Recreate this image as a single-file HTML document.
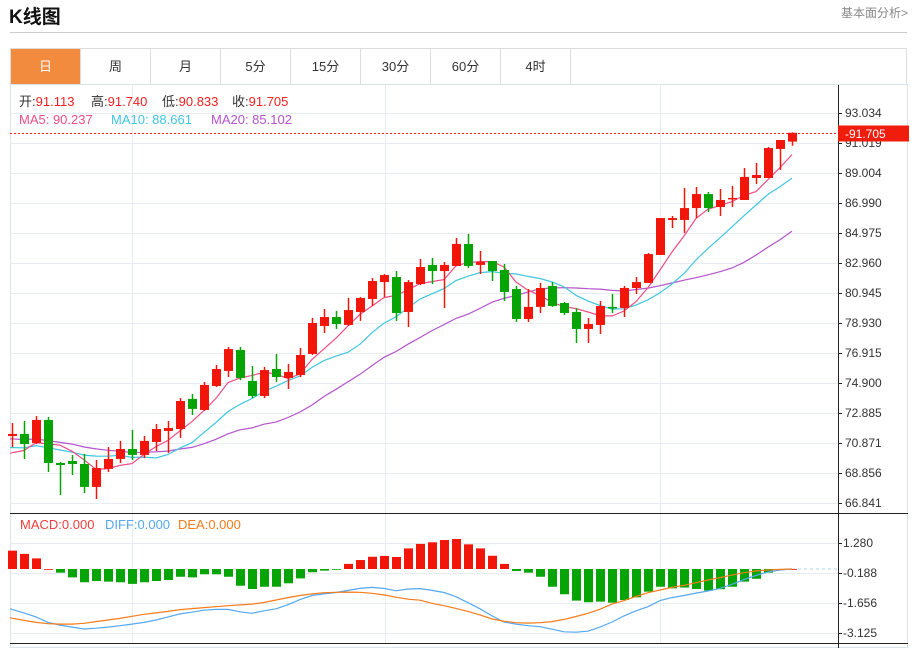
<!DOCTYPE html>
<html><head><meta charset="utf-8">
<style>
body{margin:0;width:917px;height:650px;background:#fff;font-family:"Liberation Sans","Noto Sans CJK SC",sans-serif;position:relative;overflow:hidden}
.title{position:absolute;left:9px;top:2px;font-size:19px;font-weight:bold;color:#111}
.more{position:absolute;left:841px;top:4px;font-size:12px;color:#888}
.hr{position:absolute;left:10px;top:32px;width:897px;height:1px;background:#ccc}
.tabs{position:absolute;left:10px;top:48px;width:897px;height:36px;border:1px solid #ddd;border-bottom:none;box-sizing:border-box;display:flex}
.tab{width:70px;height:35px;border-right:1px solid #ddd;box-sizing:border-box;text-align:center;line-height:35px;font-size:13px;color:#333}
.tab.on{background:#f38b3e;color:#fff}
</style></head><body>
<div class="title">K线图</div>
<div class="more">基本面分析&gt;</div>
<div class="hr"></div>
<div class="tabs">
<div class="tab on">日</div>
<div class="tab">周</div>
<div class="tab">月</div>
<div class="tab">5分</div>
<div class="tab">15分</div>
<div class="tab">30分</div>
<div class="tab">60分</div>
<div class="tab">4时</div>
</div>
<svg id="chart" width="917" height="650" style="position:absolute;left:0;top:0"></svg>
<script>
const opens=[71.34,71.48,70.87,72.42,69.53,69.66,69.46,67.92,69.13,69.80,70.47,70.07,70.94,71.68,71.81,73.83,73.09,74.70,75.71,77.12,75.04,74.03,75.84,75.24,75.44,76.85,78.73,79.33,78.80,79.67,80.54,81.68,82.02,79.67,81.55,82.83,82.42,82.76,84.24,82.83,83.09,82.49,81.21,79.20,80.01,81.42,80.27,79.67,78.53,78.80,80.01,79.94,81.28,81.62,83.50,85.85,85.85,86.65,87.59,86.72,87.26,87.19,88.67,88.67,90.62,91.113];
const closes=[71.48,70.80,72.42,69.53,69.39,69.46,67.92,69.19,69.80,70.47,70.07,71.01,71.81,71.88,73.69,73.16,74.77,75.84,77.18,75.24,74.03,75.77,75.30,75.64,76.78,78.93,79.33,78.86,79.80,80.61,81.75,82.15,79.60,81.68,82.69,82.42,82.83,84.24,82.76,83.03,82.42,81.01,79.20,80.01,81.28,80.07,79.60,78.53,78.86,80.07,79.94,81.28,81.68,83.56,85.98,85.98,86.65,87.59,86.65,87.19,87.33,88.74,88.87,90.68,91.22,91.705];
const highs=[72.21,72.35,72.68,72.62,69.60,70.07,70.13,69.73,70.60,71.01,71.74,71.34,72.15,72.35,73.89,74.16,74.97,76.11,77.32,77.32,76.04,75.98,76.85,76.18,77.25,79.27,79.87,79.74,80.61,80.68,81.95,82.22,82.42,81.82,83.23,83.30,83.03,84.64,84.91,83.77,83.09,82.89,81.42,81.21,81.62,81.68,80.34,79.94,79.27,80.41,80.88,81.42,82.02,83.63,85.98,86.12,88.00,88.06,87.73,87.93,88.13,89.34,89.68,90.75,91.22,91.74];
const lows=[70.60,69.80,70.80,68.92,67.38,68.72,67.51,67.11,68.92,69.53,69.73,69.86,70.33,70.20,71.21,72.75,73.02,74.63,75.30,75.10,73.89,73.89,74.97,74.50,75.30,76.78,78.26,78.53,78.73,79.07,80.07,80.68,79.07,78.66,81.48,81.55,79.94,82.76,82.62,82.22,81.75,80.41,79.00,79.00,79.60,80.01,79.47,77.59,77.59,78.19,79.60,79.33,80.88,81.62,83.50,85.31,84.98,85.98,86.39,86.12,86.72,87.19,88.27,88.67,89.21,90.833];
const prevCloses=[71.74,71.74,71.74,71.74,71.74,71.74,71.74,71.74,71.74,71.74,70.94,70.94,70.94,70.94,70.94,69.86,69.86,69.86,69.86];
const priceTicks=[93.034,91.019,89.004,86.990,84.975,82.960,80.945,78.930,76.915,74.900,72.885,70.871,68.856,66.841];
const macdHist=[0.90,0.74,0.52,0.0,-0.18,-0.41,-0.65,-0.59,-0.62,-0.65,-0.73,-0.65,-0.59,-0.54,-0.38,-0.41,-0.26,-0.26,-0.38,-0.82,-0.98,-0.87,-0.87,-0.70,-0.46,-0.16,-0.08,-0.02,0.25,0.44,0.60,0.64,0.59,1.01,1.23,1.31,1.42,1.47,1.21,1.01,0.65,0.25,-0.10,-0.18,-0.38,-0.87,-1.24,-1.55,-1.63,-1.60,-1.65,-1.52,-1.39,-1.11,-0.87,-0.95,-0.91,-0.98,-1.06,-0.99,-0.87,-0.62,-0.48,-0.18,-0.05,0];
const diffVals=[-1.95,-2.15,-2.35,-2.62,-2.75,-2.85,-2.94,-2.90,-2.85,-2.78,-2.70,-2.62,-2.50,-2.35,-2.20,-2.12,-2.02,-1.98,-1.98,-2.10,-2.17,-2.05,-1.95,-1.75,-1.50,-1.30,-1.22,-1.15,-1.05,-0.95,-0.90,-0.95,-1.07,-0.98,-0.96,-1.05,-1.15,-1.36,-1.65,-1.95,-2.30,-2.60,-2.70,-2.78,-2.83,-2.95,-3.08,-3.10,-3.05,-2.85,-2.60,-2.30,-2.05,-1.85,-1.55,-1.40,-1.30,-1.18,-1.08,-0.95,-0.75,-0.52,-0.32,-0.14,-0.05,0];
const deaVals=[-2.39,-2.52,-2.62,-2.68,-2.70,-2.70,-2.66,-2.58,-2.50,-2.42,-2.32,-2.22,-2.15,-2.08,-1.99,-1.94,-1.89,-1.85,-1.80,-1.76,-1.72,-1.64,-1.52,-1.40,-1.30,-1.22,-1.16,-1.14,-1.13,-1.14,-1.19,-1.27,-1.38,-1.48,-1.53,-1.68,-1.80,-1.93,-2.08,-2.25,-2.45,-2.56,-2.63,-2.65,-2.63,-2.58,-2.47,-2.33,-2.17,-1.97,-1.72,-1.55,-1.35,-1.16,-1.03,-0.90,-0.80,-0.67,-0.54,-0.42,-0.30,-0.18,-0.10,-0.05,-0.02,0];
const macdTicks=[1.280,-0.188,-1.656,-3.125];

const NS='http://www.w3.org/2000/svg';
const svg=document.getElementById('chart');
function mk(tag,attrs,parent){const e=document.createElementNS(NS,tag);for(const k in attrs)e.setAttribute(k,attrs[k]);(parent||svg).appendChild(e);return e;}
const X0=12,DX=12,AXIS=838;
const xs=i=>X0+i*DX;
const yP=p=>113+(93.034-p)*(390/(93.034-66.841));
const yM=v=>569-v*20.4;
const RED='#f2160a',GREEN='#07a406';

let e=mk('rect',{x:10.5,y:84.5,width:897,height:563,fill:'none',stroke:'#dde3ea'});


priceTicks.forEach(t=>{const g=mk('line',{x1:10,x2:AXIS,y1:Math.round(yP(t))+0.5,y2:Math.round(yP(t))+0.5,stroke:'#e6ecf1'});

});
[132,385,660].forEach(x=>{const g=mk('line',{x1:x+0.5,x2:x+0.5,y1:85,y2:643,stroke:'#e6ecf1'});

});
macdTicks.forEach(t=>{const g=mk('line',{x1:10,x2:AXIS,y1:Math.round(yM(t))+0.5,y2:Math.round(yM(t))+0.5,stroke:'#e6ecf1'});

});
e=mk('line',{x1:10,x2:908,y1:513.5,y2:513.5,stroke:'#222'});


e=mk('line',{x1:10,x2:908,y1:643.5,y2:643.5,stroke:'#222'});


e=mk('line',{x1:AXIS+0.5,x2:AXIS+0.5,y1:85,y2:648,stroke:'#222'});


priceTicks.forEach(t=>{const y=Math.round(yP(t));
const tk=mk('line',{x1:AXIS,x2:AXIS+4,y1:y+0.5,y2:y+0.5,stroke:'#222'});


const tx=mk('text',{x:AXIS+7,y:y+4,'font-size':12,fill:'#333'});tx.textContent=t.toFixed(3);

});
macdTicks.forEach(t=>{const y=Math.round(yM(t));
const tk=mk('line',{x1:AXIS,x2:AXIS+4,y1:y+0.5,y2:y+0.5,stroke:'#222'});


const tx=mk('text',{x:AXIS+5,y:y+4,'font-size':12,fill:'#333'});tx.textContent=(t>=0?' ':'-')+Math.abs(t).toFixed(3);

});

const all=prevCloses.concat(closes),np=prevCloses.length;
function ma(n){return closes.map((c,i)=>{let s=0;for(let k=0;k<n;k++)s+=all[np+i-k];return s/n;});}
[[20,'#b453cc','ma20-line'],[10,'#3fc6e0','ma10-line'],[5,'#ee4d86','ma5-line']].forEach(([n,col,name])=>{
const pts=ma(n).map((v,i)=>(i==0?10:xs(i))+','+yP(v).toFixed(1)).join(' ');
const pl=mk('polyline',{points:pts,fill:'none',stroke:col,'stroke-width':1.2});

});

closes.forEach((c,i)=>{const o=opens[i],up=c>=o,col=up?RED:GREEN,x=xs(i);
const g=mk('g',{});


mk('line',{x1:x+0.5,x2:x+0.5,y1:yP(highs[i]),y2:yP(lows[i]),stroke:col,'stroke-width':1.5},g);
const top=yP(Math.max(o,c)),bot=yP(Math.min(o,c));
mk('rect',{x:x-4,y:top,width:9,height:Math.max(1.5,bot-top),fill:col},g);});

const lp=closes[closes.length-1],ly=Math.round(yP(lp))+0.5;
e=mk('line',{x1:10,x2:AXIS,y1:ly,y2:ly,stroke:'#f02020','stroke-dasharray':'2,2'});


e=mk('rect',{x:AXIS,y:ly-8,width:71,height:16,fill:'#f01c0c'});


e=mk('text',{x:AXIS+7,y:ly+4.5,'font-size':12,fill:'#fff'});e.textContent='-'+lp.toFixed(3);



const z=yM(0);
e=mk('line',{x1:xs(macdHist.length-1),x2:AXIS,y1:z,y2:z,stroke:'#a8d4ea','stroke-dasharray':'3,3'});


macdHist.forEach((v,i)=>{const y=yM(v);
const r=mk('rect',{x:xs(i)-4,y:Math.min(y,z),width:9,height:Math.max(0.8,Math.abs(y-z)),fill:v>=0?RED:GREEN});

});
[[diffVals,'#55a8f0','diff-line'],[deaVals,'#f57b1c','dea-line']].forEach(([arr,col,name])=>{
const pts=arr.map((v,i)=>(i==0?10:xs(i))+','+yM(v).toFixed(1)).join(' ');
const pl=mk('polyline',{points:pts,fill:'none',stroke:col,'stroke-width':1.2});

});

function leg(y,parts,name){const t=mk('text',{y:y,'font-size':13});


parts.forEach(([x,s,c])=>{const a={fill:c};if(x!==null)a.x=x;const sp=mk('tspan',a,t);sp.textContent=s;});}
leg(106,[[19,'开:','#333'],[null,opens[65].toFixed(3),'#f02020'],[91,'高:','#333'],[null,highs[65].toFixed(3),'#f02020'],[162,'低:','#333'],[null,lows[65].toFixed(3),'#f02020'],[232,'收:','#333'],[null,closes[65].toFixed(3),'#f02020']],'ohlc-legend');
leg(124,[[19,'MA5: 90.237','#ee4d86'],[111,'MA10: 88.661','#3fc6e0'],[211,'MA20: 85.102','#b453cc']],'ma-legend');
leg(529,[[20,'MACD:0.000','#f03c3c'],[105,'DIFF:0.000','#55a8f0'],[178,'DEA:0.000','#f57b1c']],'macd-legend');
</script>
</body></html>
